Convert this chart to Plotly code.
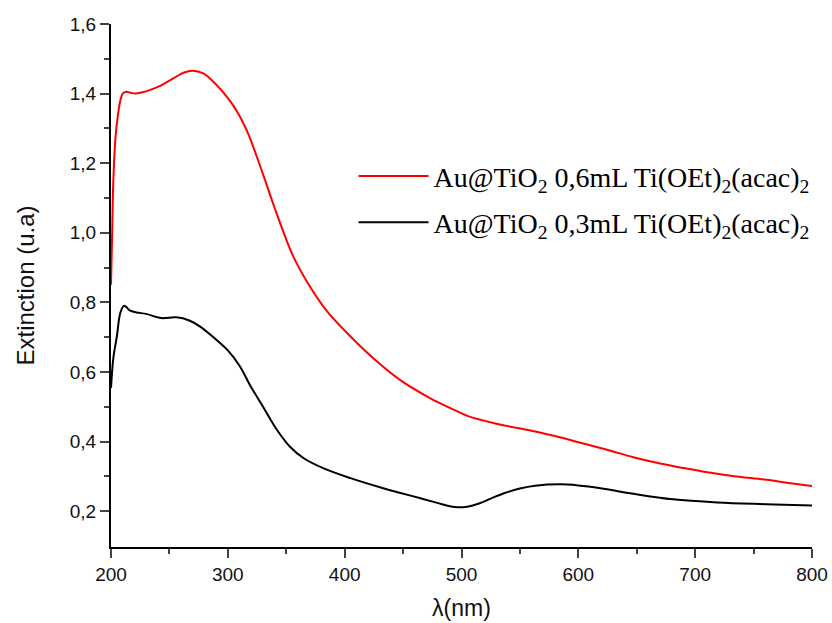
import plotly.graph_objects as go

# Red curve: Au@TiO2 0,6mL
wl_red = [200, 201, 202, 204, 206, 208, 210, 213, 217, 221, 227, 233, 242, 253, 262, 270, 279, 290,
          300, 305, 311, 318, 325, 332, 340, 356, 368, 385, 405, 426, 447, 473, 490, 505, 533, 560,
          580, 600, 625, 647, 670, 690, 712, 732, 761, 780, 800]
ext_red = [0.85, 1.0, 1.15, 1.28, 1.34, 1.38, 1.40, 1.405, 1.402, 1.40, 1.404, 1.41, 1.422, 1.443, 1.46,
           1.466, 1.458, 1.426, 1.387, 1.364, 1.330, 1.280, 1.217, 1.150, 1.072, 0.932, 0.858, 0.774,
           0.702, 0.635, 0.578, 0.525, 0.497, 0.474, 0.449, 0.431, 0.416, 0.398, 0.376, 0.355, 0.337,
           0.324, 0.311, 0.301, 0.29, 0.281, 0.272]

# Black curve: Au@TiO2 0,3mL
wl_black = [200, 202, 205, 208, 211, 213, 216, 222, 230, 243, 256, 267, 276, 290, 300, 310, 319, 330,
            342, 353, 365, 382, 405, 433, 447, 465, 480, 490, 497, 505, 515, 525, 537, 550, 563, 584,
            600, 619, 647, 681, 719, 760, 800]
ext_black = [0.554, 0.64, 0.702, 0.77, 0.79, 0.787, 0.777, 0.771, 0.767, 0.755, 0.757, 0.748, 0.731,
             0.693, 0.662, 0.618, 0.562, 0.501, 0.434, 0.386, 0.352, 0.323, 0.295, 0.266, 0.253, 0.237,
             0.223, 0.214, 0.211, 0.213, 0.222, 0.236, 0.252, 0.265, 0.273, 0.277, 0.274, 0.266, 0.25,
             0.234, 0.225, 0.22, 0.216]

name_red = "Au@TiO<sub>2</sub> 0,6mL Ti(OEt)<sub>2</sub>(acac)<sub>2</sub>"
name_black = "Au@TiO<sub>2</sub> 0,3mL Ti(OEt)<sub>2</sub>(acac)<sub>2</sub>"

x_ticks = [200, 300, 400, 500, 600, 700, 800]
x_minor = [250, 350, 450, 550, 650, 750]
y_ticks = [0.2, 0.4, 0.6, 0.8, 1.0, 1.2, 1.4, 1.6]
y_ticktext = ["0,2", "0,4", "0,6", "0,8", "1,0", "1,2", "1,4", "1,6"]
y_minor = [0.3, 0.5, 0.7, 0.9, 1.1, 1.3, 1.5]

fig = go.Figure()
fig.add_trace(go.Scatter(x=wl_red, y=ext_red, mode="lines", name=name_red, legendgroup="a",
                         line=dict(color="#ff0000", width=2, shape="spline", smoothing=1.0)))
fig.add_trace(go.Scatter(x=wl_black, y=ext_black, mode="lines", name=name_black, legendgroup="b",
                         line=dict(color="#000000", width=2, shape="spline", smoothing=1.0)))

tickfont = dict(family="Liberation Sans, Arial", size=19, color="#111")
fig.update_layout(
    width=832, height=623,
    margin=dict(l=111, r=20, t=24, b=76),
    paper_bgcolor="white", plot_bgcolor="white",
    showlegend=True,
    legend=dict(x=0.346, y=0.665, xanchor="left", yanchor="middle",
                font=dict(family="Liberation Serif, Times New Roman", size=28, color="#000"),
                bgcolor="rgba(0,0,0,0)", itemwidth=70, tracegroupgap=7),
    xaxis=dict(range=[200, 800], tickvals=x_ticks, ticks="outside", ticklen=9, tickwidth=2,
               showline=True, linewidth=2, linecolor="black", showgrid=False, zeroline=False,
               tickfont=tickfont, automargin=False,
               minor=dict(tickvals=x_minor, ticks="outside", ticklen=5, tickwidth=2),
               title=dict(text="λ(nm)", font=dict(family="Liberation Sans, Arial", size=23, color="#111"),
                          standoff=16)),
    yaxis=dict(range=[0.097, 1.6], tickvals=y_ticks, ticktext=y_ticktext, ticks="outside", ticklen=9,
               tickwidth=2, showline=True, linewidth=2, linecolor="black", showgrid=False,
               zeroline=False, tickfont=tickfont, automargin=False,
               minor=dict(tickvals=y_minor, ticks="outside", ticklen=5, tickwidth=2),
               title=dict(text="Extinction (u.a)", font=dict(family="Liberation Sans, Arial", size=24,
                                                             color="#111"), standoff=28)),
)

# remove the browser's default 8px body margin so the figure fills the window exactly
fig.write_html("out.html", config={"displayModeBar": False},
               post_script="document.body.style.margin='0';document.body.style.overflow='hidden';")
